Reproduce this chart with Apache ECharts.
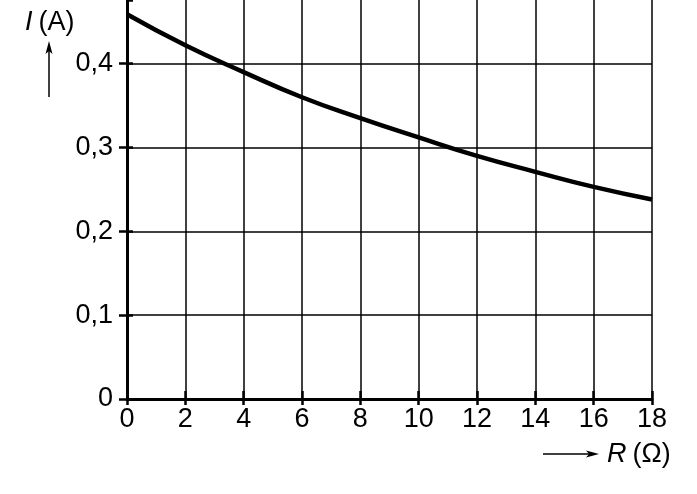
<!DOCTYPE html>
<html>

<head>
    <meta charset="UTF-8" />
    <title>I(R)</title>
    <script src="https://cdn.jsdelivr.net/npm/echarts@6/dist/echarts.min.js"></script>
    <style>
        html, body { margin: 0; padding: 0; background: #fff; }
        #chart { width: 697px; height: 494px; }
    </style>
</head>

<body>
    <div id="chart"></div>

    <script type="text/javascript">
        // R (ohm) at each grid line, I (A)
        const resistance = [0, 2, 4, 6, 8, 10, 12, 14, 16, 18];
        const current = [0.459, 0.422, 0.390, 0.360, 0.335, 0.312, 0.290, 0.271, 0.253, 0.238];

        const xTicks = { min: 0, max: 18, step: 2 };
        // the top of the plot is cut off a little above 0,4
        const yTicks = { min: 0, max: 0.476, step: 0.1 };

        const font = '"Liberation Sans", Arial, sans-serif';

        let yLabel = v => {
            if (v === 0) return '0';
            if (v > 0.45) return '';
            return v.toFixed(1).replace('.', ',');
        };

        let chart = echarts.init(document.getElementById('chart'));

        let option = {
            animation: false,
            backgroundColor: '#fff',
            grid: { left: 127, right: 45, top: 0, bottom: 95, containLabel: false },
            xAxis: [
                {
                    type: 'value',
                    min: xTicks.min, max: xTicks.max, interval: xTicks.step,
                    axisLine: { lineStyle: { color: '#000', width: 3 } },
                    axisTick: { show: true, length: 6, lineStyle: { color: '#000', width: 2.5 } },
                    axisLabel: { color: '#000', fontSize: 27, fontFamily: font, margin: 7 },
                    splitLine: { show: true, lineStyle: { color: '#000', width: 1.5 } }
                },
                {
                    // inner half of the crossing ticks
                    type: 'value',
                    position: 'bottom',
                    min: xTicks.min, max: xTicks.max, interval: xTicks.step,
                    axisLine: { show: false },
                    axisTick: { show: true, inside: true, length: 8, lineStyle: { color: '#000', width: 2.5 } },
                    axisLabel: { show: false },
                    splitLine: { show: false }
                }
            ],
            yAxis: [
                {
                    type: 'value',
                    min: yTicks.min, max: yTicks.max, interval: yTicks.step,
                    axisLine: { show: true, lineStyle: { color: '#000', width: 3 } },
                    axisTick: { show: true, length: 8, lineStyle: { color: '#000', width: 2.5 } },
                    axisLabel: { color: '#000', fontSize: 27, fontFamily: font, margin: 14, formatter: yLabel, showMaxLabel: false },
                    splitLine: { show: true, showMaxLine: false, lineStyle: { color: '#000', width: 1.5 } }
                },
                {
                    type: 'value',
                    position: 'left',
                    min: yTicks.min, max: yTicks.max, interval: yTicks.step,
                    axisLine: { show: false },
                    axisTick: { show: true, inside: true, length: 6, lineStyle: { color: '#000', width: 2.5 } },
                    axisLabel: { show: false },
                    splitLine: { show: false }
                }
            ],
            series: [
                {
                    type: 'line',
                    xAxisIndex: 0,
                    yAxisIndex: 0,
                    data: resistance.map((r, i) => [r, current[i]]),
                    smooth: true,
                    showSymbol: false,
                    lineStyle: { color: '#000', width: 4.5 }
                }
            ],
            graphic: [
                {
                    type: 'text', left: 25, top: 9,
                    style: {
                        text: '{i|I}(A)',
                        fill: '#000', font: '27px ' + font,
                        rich: { i: { fontStyle: 'italic', fontSize: 27, fontFamily: font, fill: '#000', padding: [0, 6, 0, 0] } }
                    }
                },
                { type: 'line', shape: { x1: 49, y1: 97, x2: 49, y2: 50 }, style: { stroke: '#000', lineWidth: 1.5 } },
                { type: 'polygon', shape: { points: [[49, 41], [45.5, 54], [49, 51], [52.5, 54]] }, style: { fill: '#000' } },
                { type: 'line', shape: { x1: 543, y1: 454, x2: 590, y2: 454 }, style: { stroke: '#000', lineWidth: 1.5 } },
                { type: 'polygon', shape: { points: [[599, 454], [586, 450.5], [589, 454], [586, 457.5]] }, style: { fill: '#000' } },
                {
                    type: 'text', left: 607, top: 441,
                    style: {
                        text: '{i|R}(Ω)',
                        fill: '#000', font: '27px ' + font,
                        rich: { i: { fontStyle: 'italic', fontSize: 27, fontFamily: font, fill: '#000', padding: [0, 6, 0, 0] } }
                    }
                }
            ]
        };
        chart.setOption(option);
    </script>
</body>

</html>
